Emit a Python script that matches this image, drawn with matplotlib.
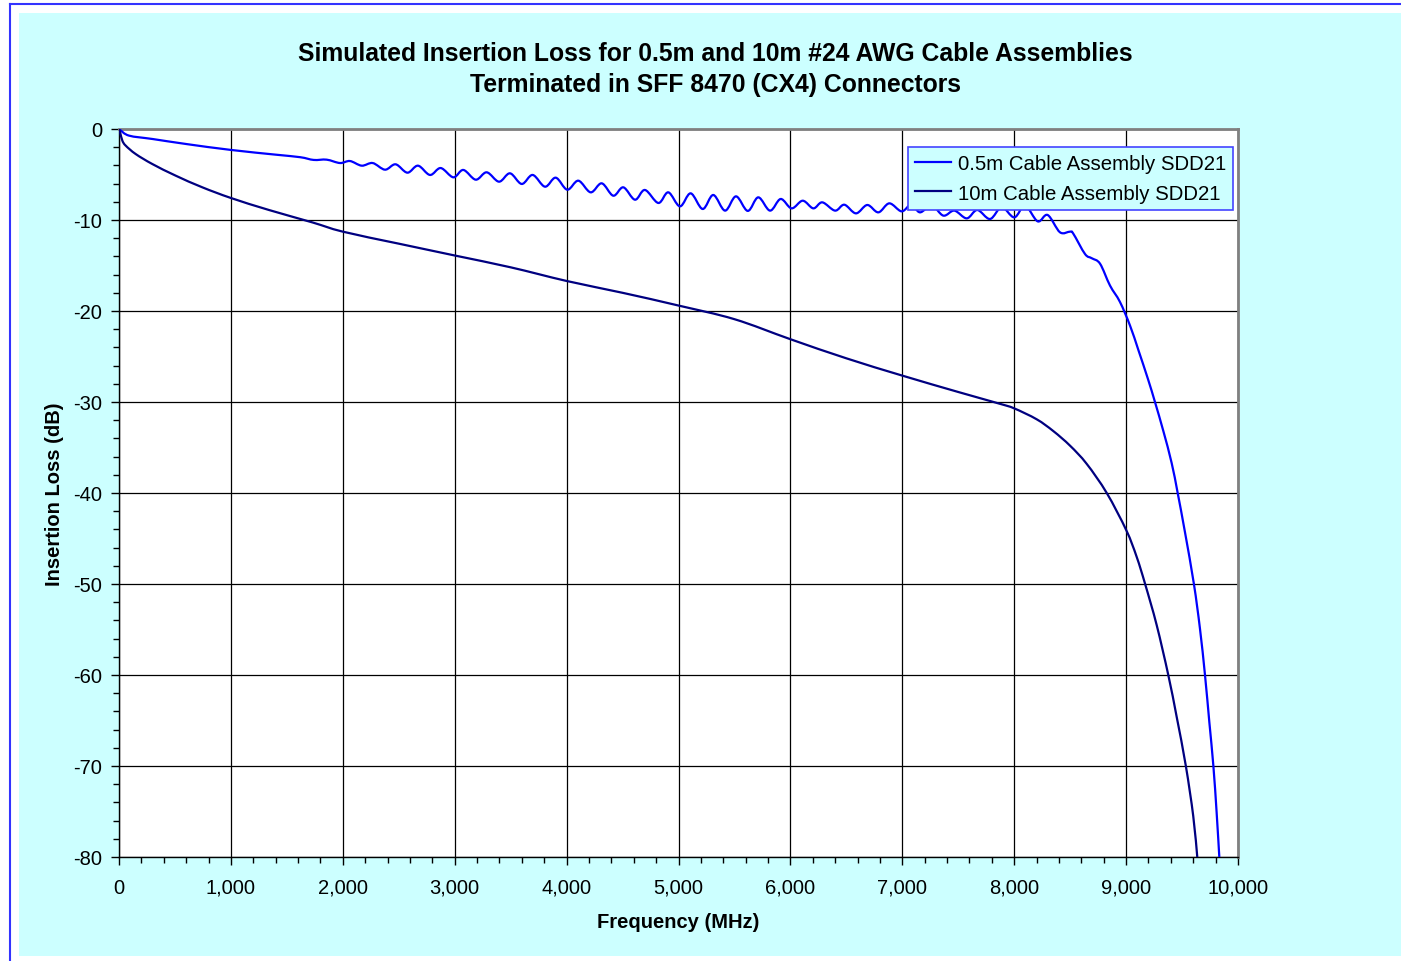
import numpy as np
import matplotlib
matplotlib.use('Agg')
import matplotlib.pyplot as plt
from matplotlib.ticker import MultipleLocator, FuncFormatter
from matplotlib.patches import Rectangle, PathPatch
from matplotlib.lines import Line2D
from matplotlib.path import Path

plt.rcParams['font.family'] = ['Liberation Sans', 'DejaVu Sans']
plt.rcParams['axes.unicode_minus'] = False

# 0.5m cable assembly SDD21
freq_short = [0, 10, 90, 300, 600, 1000, 1400, 1620, 1740, 1856, 1975, 2064, 2169,
              2267, 2377, 2472, 2577, 2672, 2779, 2875, 2988, 3077, 3188, 3286, 3396,
              3494, 3599, 3697, 3807, 3903, 4006, 4105, 4215, 4314, 4417, 4507, 4611,
              4700, 4820, 4909, 5013, 5109, 5216, 5311, 5416, 5514, 5619, 5713, 5818,
              5913, 6011, 6110, 6205, 6285, 6399, 6482, 6586, 6687, 6786, 6884, 6994,
              7080, 7158, 7263, 7367, 7465, 7576, 7670, 7784, 7888, 8001, 8097, 8210,
              8299, 8409, 8499, 8528, 8633, 8693, 8767, 8856, 8945, 9035, 9110, 9196,
              9258, 9333, 9407, 9461, 9526, 9606, 9660, 9705, 9744, 9780, 9809, 9833]
loss_short = [0, -0.1, -0.73, -1.1, -1.65, -2.3, -2.82, -3.1, -3.4, -3.37, -3.74, -3.52, -4.03,
              -3.74, -4.47, -3.88, -4.8, -4.03, -5.05, -4.29, -5.31, -4.5, -5.57, -4.76, -5.79,
              -4.87, -6.04, -5.05, -6.34, -5.35, -6.67, -5.68, -6.96, -5.97, -7.33, -6.41, -7.77,
              -6.7, -8.13, -6.96, -8.5, -7.07, -8.79, -7.25, -8.97, -7.4, -9.0, -7.51, -8.97,
              -7.69, -8.72, -7.88, -8.72, -8.06, -8.97, -8.32, -9.27, -8.35, -9.16, -8.17, -9.05,
              -8.3, -9.16, -8.4, -9.52, -8.97, -9.82, -8.9, -9.89, -8.6, -9.71, -8.43, -10.15,
              -9.45, -11.35, -11.28, -11.5, -13.74, -14.2, -14.8, -17.2, -19.0, -21.6, -24.3, -27.5,
              -30.0, -33.2, -36.7, -40.0, -44.3, -50.0, -54.9, -60.0, -65.2, -70.0, -75.1, -80.0]

# 10m cable assembly SDD21
freq_long = [0, 10, 30, 60, 149, 298, 507, 745, 1000, 1340, 1727, 2000, 2500, 3000, 3500,
             4000, 4500, 5000, 5500, 6000, 6500, 7000, 7500, 7873, 8000, 8201, 8350, 8499,
             8648, 8827, 9002, 9094, 9170, 9273, 9377, 9452, 9534, 9600, 9636]
loss_long = [0, -0.37, -1.28, -1.83, -2.75, -3.85, -5.13, -6.41, -7.58, -8.9, -10.26, -11.28,
             -12.6, -13.9, -15.2, -16.7, -18.0, -19.4, -20.9, -23.1, -25.2, -27.1, -28.9, -30.2,
             -30.7, -31.9, -33.2, -34.8, -36.8, -40.0, -44.1, -47.0, -50.0, -54.5, -60.0,
             -64.6, -70.0, -75.5, -80.0]

labels = ['0.5m Cable Assembly SDD21', '10m Cable Assembly SDD21']
colors = ['#0000FF', '#000080']


def smooth_path(x, y):
    # smoothed line through the data points (like Excel's "smoothed line")
    p = np.column_stack([x, y]).astype(float)
    verts = [p[0]]
    codes = [Path.MOVETO]
    n = len(p)
    for i in range(n - 1):
        p0 = p[i - 1] if i > 0 else p[i]
        p3 = p[i + 2] if i + 2 < n else p[i + 1]
        c1 = p[i] + (p[i + 1] - p0) / 6
        c2 = p[i + 1] - (p3 - p[i]) / 6
        verts += [c1, c2, p[i + 1]]
        codes += [Path.CURVE4] * 3
    return Path(verts, codes)


fig = plt.figure(figsize=(14.01, 9.62), dpi=100)
fig.patch.set_facecolor('white')

# cyan chart area and blue border as in the original
W, H = 1401, 962
fig.patches.append(Rectangle((19 / W, 1 - 957 / H), 1 - 19 / W, (957 - 14) / H,
                             transform=fig.transFigure, facecolor='#CCFFFF',
                             edgecolor='none', zorder=-5))
fig.lines.append(Line2D([10 / W, 1], [1 - 5 / H, 1 - 5 / H], transform=fig.transFigure,
                        color='#3333FF', lw=1.5, zorder=-5))
fig.lines.append(Line2D([10 / W, 10 / W], [0, 1 - 5 / H], transform=fig.transFigure,
                        color='#3333FF', lw=1.5, zorder=-5))

ax = fig.add_axes([119 / W, 1 - 858 / H, (1238 - 119) / W, (858 - 130) / H])
ax.set_facecolor('white')

handles = []
for xs, ys, c, lab in [(freq_short, loss_short, colors[0], labels[0]),
                       (freq_long, loss_long, colors[1], labels[1])]:
    ax.add_patch(PathPatch(smooth_path(xs, ys), fill=False, edgecolor=c, lw=1.6,
                           joinstyle='round', zorder=3))
    handles.append(Line2D([], [], color=c, lw=1.6, label=lab))

ax.set_xlim(0, 10000)
ax.set_ylim(-80, 0)
ax.xaxis.set_major_locator(MultipleLocator(1000))
ax.xaxis.set_minor_locator(MultipleLocator(200))
ax.yaxis.set_major_locator(MultipleLocator(10))
ax.yaxis.set_minor_locator(MultipleLocator(2))
ax.xaxis.set_major_formatter(FuncFormatter(lambda v, p: f'{int(v):,}'))
ax.yaxis.set_major_formatter(FuncFormatter(lambda v, p: f'{int(v)}'))

ax.grid(True, which='major', color='black', lw=0.9)
ax.set_axisbelow(True)

ax.tick_params(axis='both', which='major', direction='out', length=6, width=1,
               labelsize=14.5, color='black')
ax.tick_params(axis='both', which='minor', direction='out', length=4, width=1, color='black')
ax.tick_params(axis='x', pad=9)
ax.tick_params(axis='y', pad=6)

for s in ['left', 'bottom']:
    ax.spines[s].set_color('black')
    ax.spines[s].set_linewidth(1)
for s in ['top', 'right']:
    ax.spines[s].set_color('#808080')
    ax.spines[s].set_linewidth(2)

ax.set_xlabel('Frequency (MHz)', fontsize=14.5, fontweight='bold', labelpad=11)
ax.set_ylabel('Insertion Loss (dB)', fontsize=14.5, fontweight='bold', labelpad=7)

fig.text(0.5106, 1 - 54 / H, 'Simulated Insertion Loss for 0.5m and 10m #24 AWG Cable Assemblies',
         ha='center', va='center', fontsize=17.85, fontweight='bold')
fig.text(0.5106, 1 - 85 / H, 'Terminated in SFF 8470 (CX4) Connectors',
         ha='center', va='center', fontsize=17.85, fontweight='bold')

leg = ax.legend(handles=handles, loc='upper right', bbox_to_anchor=(0.9955, 0.975),
                borderaxespad=0, fontsize=14.7, fancybox=False, framealpha=1,
                handlelength=1.76, handletextpad=0.34, labelspacing=0.5, borderpad=0.35)
leg.get_frame().set_facecolor('#CCFFFF')
leg.get_frame().set_edgecolor('#4444FF')
leg.get_frame().set_linewidth(1.2)
leg.set_zorder(5)

plt.savefig('out.png', dpi=100, facecolor=fig.get_facecolor())
